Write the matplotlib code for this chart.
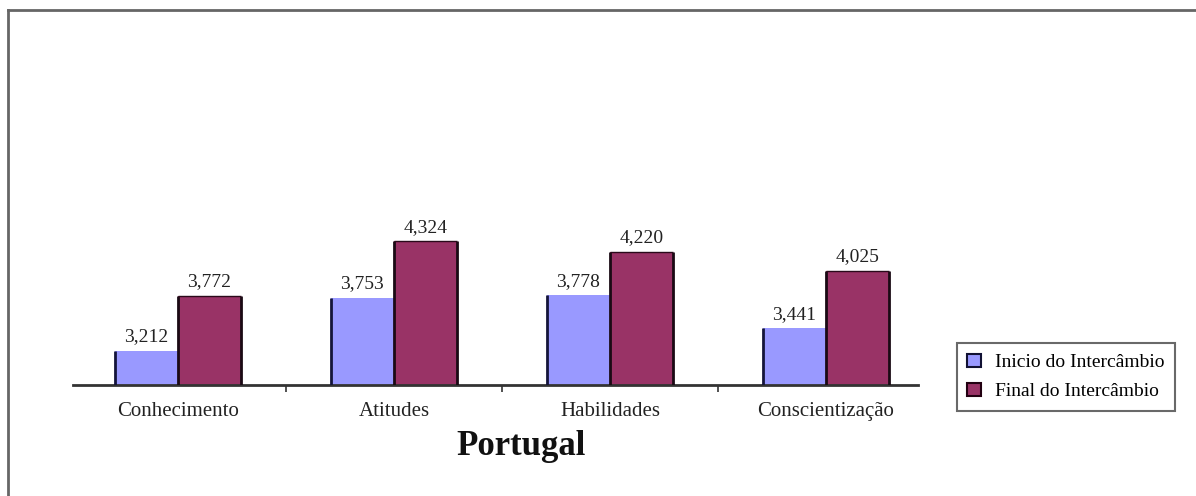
import matplotlib
matplotlib.use("Agg")
import matplotlib.pyplot as plt
import numpy as np
from matplotlib.patches import Patch
from matplotlib.lines import Line2D

# Dados
categorias = ["Conhecimento", "Atitudes", "Habilidades", "Conscientização"]
inicio = [3.212, 3.753, 3.778, 3.441]
final = [3.772, 4.324, 4.220, 4.025]
series = ["Inicio do Intercâmbio", "Final do Intercâmbio"]

cor_inicio = "#9999FF"
cor_final = "#993366"
base = 2.865

plt.rcParams['font.family'] = ['Liberation Serif', 'DejaVu Serif']

fig = plt.figure(figsize=(11.96, 4.96), dpi=100)
ax = fig.add_axes([0.061, 0.2238, 0.7065, 0.4234])

x = np.arange(len(categorias))
w = 0.292
b1 = ax.bar(x - w/2, np.array(inicio) - base, w, bottom=base, color=cor_inicio, linewidth=0)
b2 = ax.bar(x + w/2, np.array(final) - base, w, bottom=base, color=cor_final, linewidth=0)

# bordas escuras verticais
for p in b1:
    ax.vlines(p.get_x(), base, base + p.get_height(), color="#14143a", lw=2, zorder=3)
for p in b2:
    ax.vlines([p.get_x(), p.get_x() + p.get_width()], base, base + p.get_height(),
              color="#1a0a14", lw=2, zorder=3)
    ax.hlines(base + p.get_height(), p.get_x(), p.get_x() + p.get_width(),
              color="#2a0a1a", lw=1, zorder=3)

# rótulos de valor
for barras, vals in [(b1, inicio), (b2, final)]:
    for p, v in zip(barras, vals):
        ax.annotate(f"{v:.3f}".replace(".", ","), (p.get_x() + p.get_width()/2, v),
                    xytext=(0, 4), textcoords="offset points", ha="center", va="bottom",
                    fontsize=14, color="#222222")

ax.set_xlim(-0.486, 3.426)
ax.set_ylim(base, 5.0)
for s in ["top", "right", "left"]:
    ax.spines[s].set_visible(False)
ax.spines["bottom"].set_color("#333333")
ax.spines["bottom"].set_linewidth(2)
ax.set_yticks([])
ax.set_xticks(x)
ax.set_xticklabels(categorias, fontsize=15, color="#222222")
ax.tick_params(axis="x", which="major", length=0, pad=12)
ax.set_xticks([0.5, 1.5, 2.5], minor=True)
ax.tick_params(axis="x", which="minor", length=5, width=1.2, color="#333333", direction="out")

fig.text(0.4356, 0.1008, "Portugal", ha="center", va="center", fontsize=25,
         fontweight="bold", color="#111111")

handles = [Patch(facecolor=cor_inicio, edgecolor="#111133", linewidth=1.5),
           Patch(facecolor=cor_final, edgecolor="#220011", linewidth=1.5)]
leg = fig.legend(handles, series, loc="center left", bbox_to_anchor=(0.7918, 0.2399),
                 fontsize=14, fancybox=False, handlelength=0.7, handleheight=0.7,
                 handletextpad=0.7, borderpad=0.55, labelspacing=0.6, frameon=True)
leg.get_frame().set_edgecolor("#444444")
leg.get_frame().set_linewidth(1.5)

# moldura do gráfico (topo e esquerda)
fig.add_artist(Line2D([8/1196, 1], [1 - 10/496, 1 - 10/496], color="#666666", lw=2))
fig.add_artist(Line2D([8/1196, 8/1196], [0, 1 - 10/496], color="#666666", lw=2))

plt.savefig("out.png", dpi=100)
